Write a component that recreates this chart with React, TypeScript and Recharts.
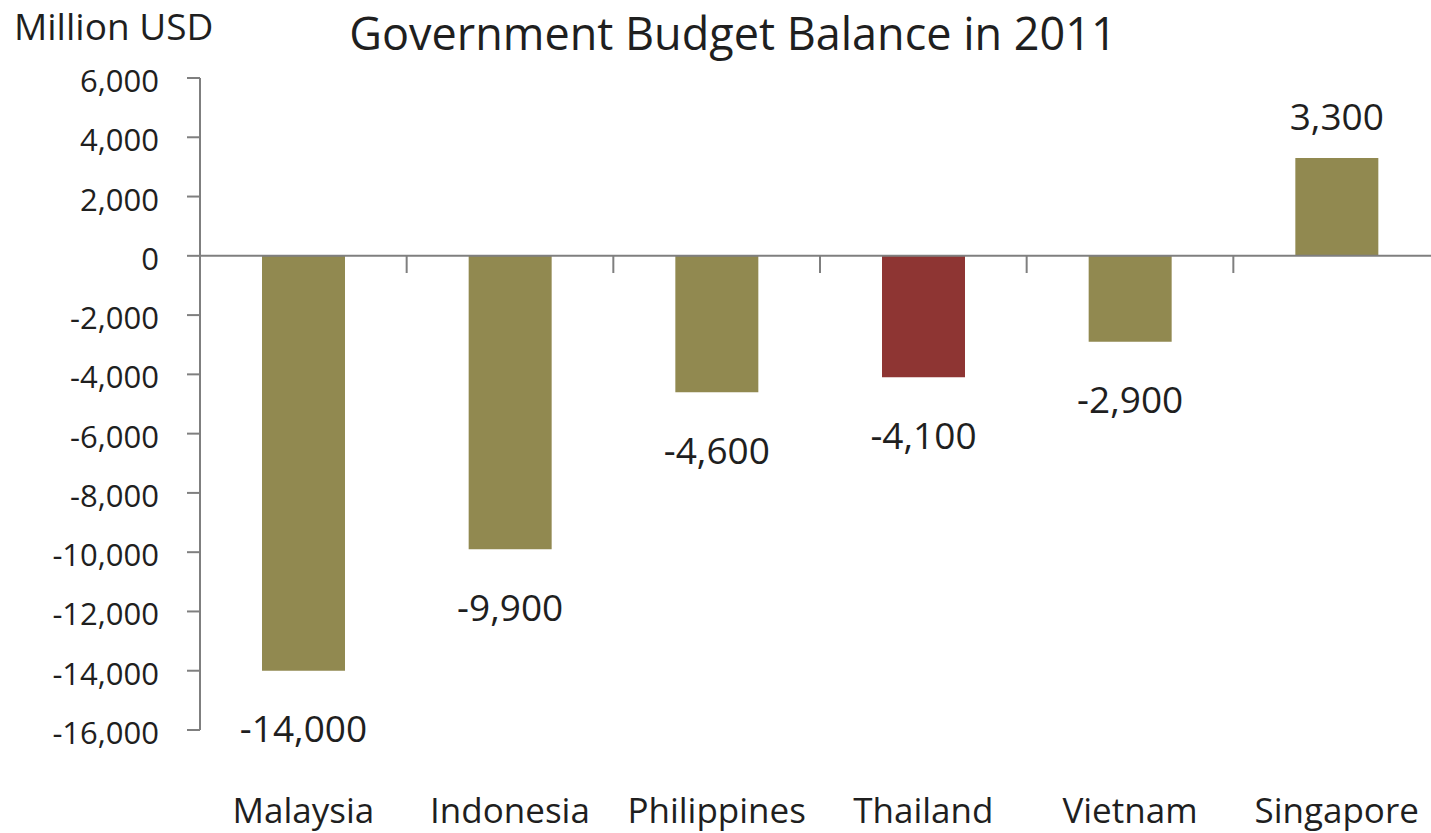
import { BarChart, Bar, XAxis, YAxis, ReferenceLine, Cell, LabelList } from "recharts";

const countries = ["Malaysia", "Indonesia", "Philippines", "Thailand", "Vietnam", "Singapore"];
const balance = [-14000, -9900, -4600, -4100, -2900, 3300];
const yTicks = [6000, 4000, 2000, 0, -2000, -4000, -6000, -8000, -10000, -12000, -14000, -16000];

const highlight = "Thailand";
const FONT = "'Open Sans', sans-serif";
const TEXT = "#1f1f1f";
const AXIS = "#7f7f7f";
const OLIVE = "#918950";
const RED = "#8e3533";
const EDGE_TICK = 580; // length of the band separator ticks, in data units

const data = countries.map((country, i) => ({ country, value: balance[i] }));

const fmt = (v: number) => v.toLocaleString("en-US");

const YTick = ({ x, y, payload }: any) => (
  <text x={x} y={y + 2} textAnchor="end" dominantBaseline="central" fontFamily={FONT} fontSize={31} fill={TEXT}>
    {fmt(payload.value)}
  </text>
);

const XTick = ({ x, y, payload }: any) => (
  <text x={x} y={y + 85} textAnchor="middle" fontFamily={FONT} fontSize={35} fill={TEXT}>
    {payload.value}
  </text>
);

const ValueLabel = ({ x, y, width, height, value }: any) => {
  const top = Math.min(y, y + height);
  const bottom = Math.max(y, y + height);
  const cy = value < 0 ? bottom + 57 : top - 43;
  return (
    <text x={x + width / 2} y={cy} textAnchor="middle" dominantBaseline="central" fontFamily={FONT} fontSize={37} fill={TEXT}>
      {fmt(value)}
    </text>
  );
};

export default function App() {
  return (
    <div style={{ position: "absolute", left: 0, top: 0, width: 1431, height: 833, overflow: "hidden", background: "#fff" }}>
      <div style={{ position: "absolute", left: 14, top: 7, fontFamily: FONT, fontSize: 37, lineHeight: 1, color: TEXT, whiteSpace: "nowrap" }}>
        Million USD
      </div>
      <div style={{ position: "absolute", left: 283, width: 900, top: 10, textAlign: "center", fontFamily: FONT, fontSize: 45, lineHeight: 1, color: TEXT, whiteSpace: "nowrap" }}>
        Government Budget Balance in 2011
      </div>
      <BarChart width={1450} height={833} data={data} margin={{ top: 78, right: 10, left: 0, bottom: 0 }} barCategoryGap="30%">
        <XAxis dataKey="country" axisLine={false} tickLine={false} height={103} tick={<XTick />} interval={0} />
        <YAxis
          domain={[-16000, 6000]}
          ticks={yTicks}
          interval={0}
          width={200}
          tickSize={13}
          tickMargin={28}
          axisLine={{ stroke: AXIS, strokeWidth: 2 }}
          tickLine={{ stroke: AXIS, strokeWidth: 2 }}
          tick={<YTick />}
        />
        <ReferenceLine y={0} stroke={AXIS} strokeWidth={2} />
        {countries.slice(1).map((c) => (
          <ReferenceLine
            key={c}
            position="start"
            segment={[{ x: c, y: 0 }, { x: c, y: -EDGE_TICK }]}
            stroke={AXIS}
            strokeWidth={2}
          />
        ))}
        <Bar dataKey="value" isAnimationActive={false}>
          {data.map((d) => (
            <Cell key={d.country} fill={d.country === highlight ? RED : OLIVE} />
          ))}
          <LabelList dataKey="value" content={<ValueLabel />} />
        </Bar>
      </BarChart>
    </div>
  );
}
